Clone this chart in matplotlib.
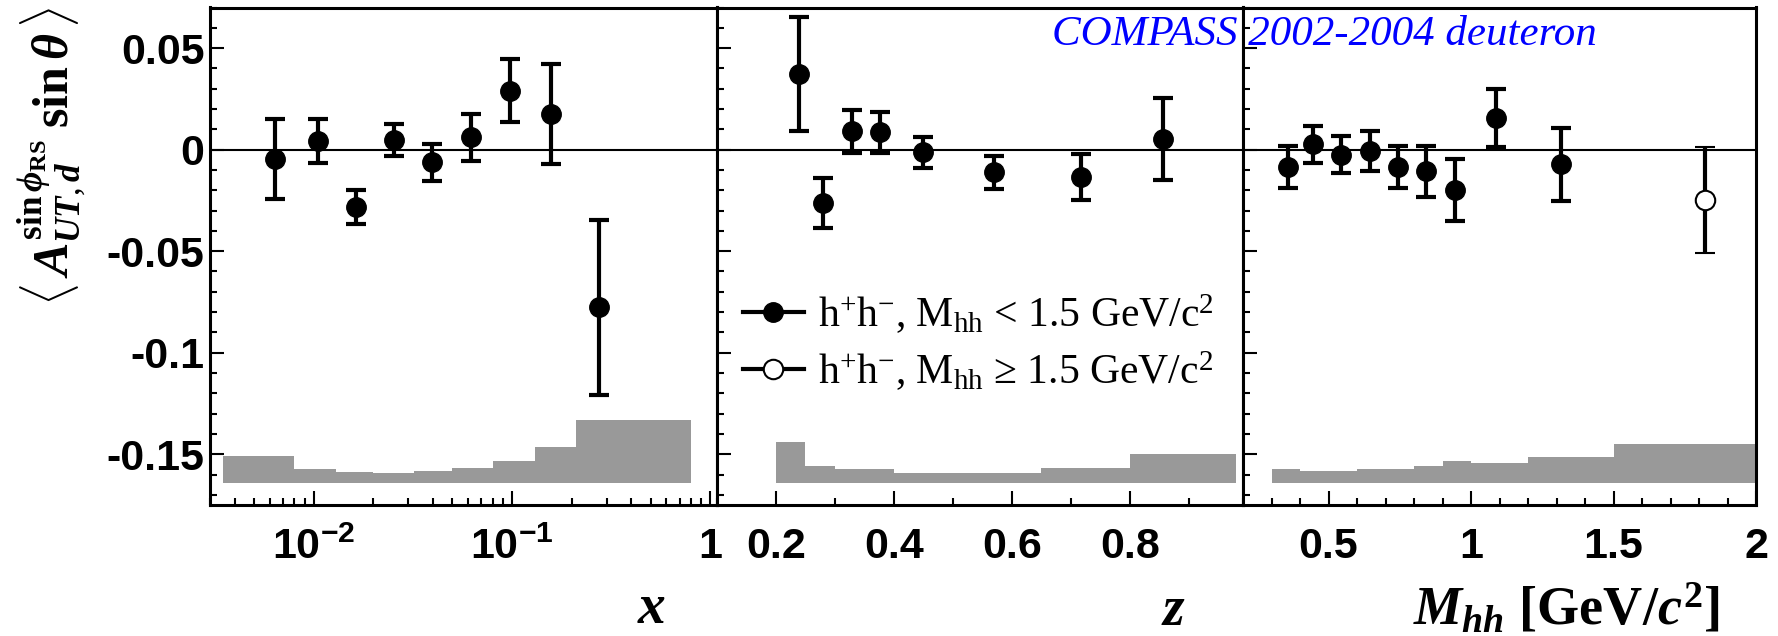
import matplotlib
matplotlib.use('Agg')
import matplotlib.pyplot as plt
from matplotlib.lines import Line2D
from matplotlib.ticker import FixedLocator, MultipleLocator, LogLocator, NullFormatter

plt.rcParams['font.family'] = 'Liberation Sans'
plt.rcParams['font.weight'] = 'bold'
plt.rcParams['axes.unicode_minus'] = False
plt.rcParams['mathtext.fontset'] = 'custom'
plt.rcParams['mathtext.rm'] = 'Liberation Serif:normal'
plt.rcParams['mathtext.it'] = 'Liberation Serif:italic:bold'
plt.rcParams['mathtext.bf'] = 'Liberation Serif:bold'
plt.rcParams['mathtext.sf'] = 'Liberation Sans:bold'

# ---- data ----
# x bins
x_vals = [0.0064, 0.0105, 0.0164, 0.0254, 0.0394, 0.0621, 0.0978, 0.157, 0.274]
x_asym = [-0.0047, 0.0042, -0.0282, 0.0048, -0.0063, 0.0061, 0.0291, 0.0174, -0.0776]
x_err = [0.0197, 0.0108, 0.0084, 0.0078, 0.0091, 0.0115, 0.0156, 0.0247, 0.0430]
x_edges = [0.0035, 0.008, 0.013, 0.02, 0.032, 0.05, 0.08, 0.13, 0.21, 0.8]
x_sys = [-0.1507, -0.1574, -0.1589, -0.1594, -0.1583, -0.1567, -0.1535, -0.1465, -0.1333]

# z bins
z_vals = [0.2388, 0.2798, 0.3283, 0.3756, 0.4494, 0.5694, 0.7169, 0.8568]
z_asym = [0.0373, -0.0263, 0.0090, 0.0086, -0.0012, -0.0112, -0.0135, 0.0051]
z_err = [0.0279, 0.0124, 0.0105, 0.0101, 0.0076, 0.0081, 0.0112, 0.0202]
z_edges = [0.2, 0.25, 0.3, 0.35, 0.4, 0.5, 0.65, 0.8, 0.98]
z_sys = [-0.1441, -0.1558, -0.1574, -0.1574, -0.1594, -0.1594, -0.1566, -0.1499]

# invariant mass bins (last one is M_hh >= 1.5)
m_vals = [0.357, 0.446, 0.544, 0.645, 0.743, 0.841, 0.943, 1.086, 1.317]
m_asym = [-0.0085, 0.0026, -0.0025, -0.0006, -0.0086, -0.0107, -0.0199, 0.0155, -0.0073]
m_err = [0.0103, 0.0090, 0.0092, 0.0100, 0.0104, 0.0127, 0.0153, 0.0142, 0.0180]
m_hi_vals = [1.82]
m_hi_asym = [-0.0248]
m_hi_err = [0.0263]
m_edges = [0.3, 0.4, 0.5, 0.6, 0.7, 0.8, 0.9, 1.0, 1.2, 1.5, 2.0]
m_sys = [-0.1574, -0.1583, -0.1583, -0.1574, -0.1574, -0.1558, -0.1535, -0.1543, -0.1515, -0.1452]

sys_base = -0.1643

y_ticks = [0.05, 0, -0.05, -0.1, -0.15]
y_ticklabels = ['0.05', '0', '-0.05', '-0.1', '-0.15']

W, H = 1778, 636
fig = plt.figure(figsize=(W / 100, H / 100), dpi=100)


def px_axes(l, r, t=7.5, b=505):
    return fig.add_axes([l / W, 1 - b / H, (r - l) / W, (b - t) / H])


ax1 = px_axes(210, 717)
ax2 = px_axes(717, 1243)
ax3 = px_axes(1243, 1756)

err_kw = dict(fmt='o', color='k', ms=14, elinewidth=3, capsize=7, capthick=3, zorder=4)


def style(ax):
    ax.set_ylim(-0.175, 0.07)
    ax.set_yticks(y_ticks)
    ax.yaxis.set_minor_locator(MultipleLocator(0.01))
    ax.tick_params(axis='both', which='both', direction='in', top=False, right=False,
                   width=1.5, labelsize=31)
    ax.tick_params(axis='both', which='major', length=10)
    ax.tick_params(axis='both', which='minor', length=5)
    ax.tick_params(axis='x', pad=16)
    ax.tick_params(axis='y', pad=4)
    for s in ax.spines.values():
        s.set_linewidth(2.2)
    ax.axhline(0, color='k', lw=1.5, zorder=1)


# panel 1: x
ax1.stairs(x_sys, x_edges, baseline=sys_base, fill=True, color='#999999', zorder=2)
ax1.errorbar(x_vals, x_asym, yerr=x_err, **err_kw)
ax1.set_xscale('log')
ax1.set_xlim(0.003, 1.08)
style(ax1)
ax1.xaxis.set_major_locator(FixedLocator([0.01, 0.1, 1]))
ax1.set_xticklabels([r'$\mathsf{10^{-2}}$', r'$\mathsf{10^{-1}}$', '1'])
ax1.xaxis.set_minor_locator(LogLocator(base=10, subs=range(2, 10)))
ax1.xaxis.set_minor_formatter(NullFormatter())
ax1.set_yticklabels(y_ticklabels)

# panel 2: z
ax2.stairs(z_sys, z_edges, baseline=sys_base, fill=True, color='#999999', zorder=2)
ax2.errorbar(z_vals, z_asym, yerr=z_err, **err_kw)
ax2.set_xlim(0.1, 0.992)
style(ax2)
ax2.set_xticks([0.2, 0.4, 0.6, 0.8])
ax2.set_xticklabels(['0.2', '0.4', '0.6', '0.8'])
ax2.xaxis.set_minor_locator(MultipleLocator(0.1))
ax2.tick_params(labelleft=False)

# panel 3: M_hh
ax3.stairs(m_sys, m_edges, baseline=sys_base, fill=True, color='#999999', zorder=2)
ax3.errorbar(m_vals, m_asym, yerr=m_err, **err_kw)
ax3.errorbar(m_hi_vals, m_hi_asym, yerr=m_hi_err, mfc='white', mec='k', mew=1.5,
             **err_kw)
ax3.set_xlim(0.2, 2.0)
style(ax3)
ax3.set_xticks([0.5, 1, 1.5, 2])
ax3.set_xticklabels(['0.5', '1', '1.5', '2'])
ax3.xaxis.set_minor_locator(MultipleLocator(0.1))
ax3.tick_params(labelleft=False)

# legend
handles = [Line2D([0], [0], color='k', lw=3, marker='o', ms=14),
           Line2D([0], [0], color='k', lw=3, marker='o', ms=14, mfc='white', mew=1.5)]
labels = [r'h$^{+}$h$^{-}$, M$_{\rm hh}$ < 1.5 GeV/c$^{2}$',
          r'h$^{+}$h$^{-}$, M$_{\rm hh}$ ≥ 1.5 GeV/c$^{2}$']
ax2.legend(handles, labels, loc='upper left', bbox_to_anchor=(743 / W, 1 - 292 / H),
           bbox_transform=fig.transFigure, frameon=False,
           prop=dict(family='Liberation Serif', size=30, weight='normal'),
           handlelength=1.46, handletextpad=0.34, labelspacing=0.32,
           borderpad=0, borderaxespad=0)

# texts
fig.text(1052 / W, 1 - 45 / H, 'COMPASS 2002-2004 deuteron', color='#0000ff',
         family='Liberation Serif', style='italic', weight='normal', fontsize=31,
         va='baseline', ha='left')

fig.text(52 / W, 1 - 156 / H,
         r'$\langle\,A^{\mathbf{sin}\,\phi_{\mathbf{RS}}}_{UT,d}\;\mathbf{sin}\,\theta\,\rangle$',
         rotation=90, ha='center', va='center', fontsize=36)

fig.text(652 / W, 1 - 623 / H, r'$x$', ha='center', va='baseline', fontsize=40)
fig.text(1173 / W, 1 - 625 / H, r'$z$', ha='center', va='baseline', fontsize=40)
fig.text(1720 / W, 1 - 625 / H, r'$M_{hh}$ [GeV/$c^{\mathbf{2}}$]', family='Liberation Serif',
         weight='bold', ha='right', va='baseline', fontsize=39)

fig.savefig('out.png', dpi=100)
